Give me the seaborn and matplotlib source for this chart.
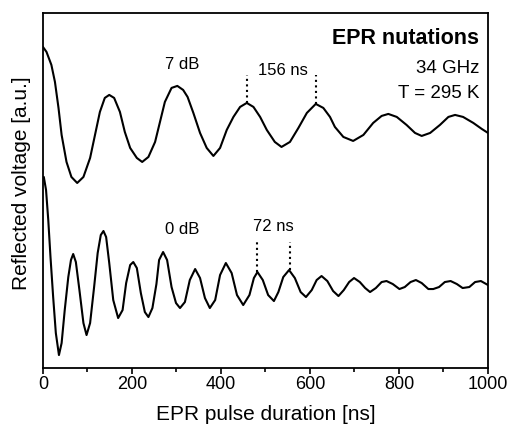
import matplotlib
matplotlib.use("Agg")
import matplotlib.pyplot as plt
import seaborn as sns
import pandas as pd
from matplotlib.ticker import MultipleLocator

# curva 7 dB (tempo em ns, sinal em u.a.)
t_7db = [0, 8, 19, 27, 35, 42, 53, 64, 77, 91, 106, 117, 128, 139, 149, 160, 173, 184,
         196, 211, 223, 237, 252, 263, 274, 289, 302, 315, 325, 338, 353, 368, 383, 398,
         413, 428, 443, 458, 473, 488, 503, 521, 536, 555, 574, 593, 613, 630, 645, 656,
         675, 697, 720, 742, 761, 776, 795, 817, 836, 851, 870, 892, 911, 926, 944, 967,
         986, 1000]
v_7db = [321, 316, 303, 286, 260, 233, 206, 191, 185, 191, 210, 233, 256, 270, 273, 270, 256, 236,
         220, 210, 206, 211, 226, 246, 266, 280, 282, 278, 271, 255, 235, 220, 212, 220,
         238, 251, 261, 265, 261, 251, 238, 226, 221, 226, 240, 255, 264, 260, 251, 241,
         231, 227, 233, 245, 252, 254, 251, 243, 235, 232, 235, 243, 251, 253, 251, 245,
         239, 235]

# curva 0 dB
t_0db = [2, 7, 12, 17, 23, 29, 36, 42, 49, 57, 63, 68, 74, 82, 91, 98, 106, 115, 123, 130,
         136, 142, 149, 158, 169, 179, 187, 196, 203, 211, 220, 229, 237, 246, 255, 261,
         270, 279, 289, 299, 308, 319, 330, 342, 353, 364, 375, 387, 398, 411, 424, 436,
         450, 464, 474, 482, 494, 506, 519, 529, 540, 553, 566, 579, 591, 604, 615, 626,
         639, 652, 664, 676, 688, 699, 712, 724, 735, 748, 761, 772, 786, 801, 813, 826,
         838, 851, 866, 877, 890, 903, 916, 930, 943, 958, 971, 984, 996, 1000]
v_0db = [191, 178, 148, 111, 71, 35, 13, 25, 58, 91, 108, 114, 106, 78, 45, 33, 45, 81, 115, 133,
         137, 131, 105, 68, 50, 58, 85, 103, 106, 100, 75, 56, 51, 60, 84, 108,
         116, 108, 81, 65, 60, 66, 88, 99, 90, 70, 60, 68, 93, 105, 95, 73,
         63, 73, 90, 96, 88, 73, 67, 76, 91, 98, 90, 76, 71, 78, 88, 92,
         87, 77, 72, 78, 86, 90, 86, 80, 76, 80, 86, 87, 84, 79, 81, 86,
         88, 85, 79, 79, 81, 86, 87, 84, 80, 81, 86, 87, 84, 83]

# picos usados para marcar o periodo
picos_7db = [458, 613]
topo_7db = [265, 264]
picos_0db = [482, 555]
topo_0db = [96, 98]

df7 = pd.DataFrame({"t": t_7db, "v": v_7db})
df0 = pd.DataFrame({"t": t_0db, "v": v_0db})

sns.set_style("ticks")
plt.rcParams["font.family"] = ["Liberation Sans", "DejaVu Sans"]
plt.rcParams["text.color"] = "black"
plt.rcParams["axes.labelcolor"] = "black"
plt.rcParams["xtick.color"] = "black"

fig = plt.figure(figsize=(5.11, 4.29), dpi=100)
ax = fig.add_axes([0.084, 0.142, 0.871, 0.828])

linha = dict(color="black", linewidth=1.5, solid_joinstyle="round", solid_capstyle="round")
sns.lineplot(data=df7, x="t", y="v", ax=ax, **linha)
sns.lineplot(data=df0, x="t", y="v", ax=ax, **linha)

for x, y in zip(picos_7db, topo_7db):
    ax.plot([x, x], [y, 293], color="black", linestyle=":", linewidth=1.5)
for x, y in zip(picos_0db, topo_0db):
    ax.plot([x, x], [y, 126], color="black", linestyle=":", linewidth=1.5)

ax.text(312, 303, "7 dB", ha="center", va="center", fontsize=12)
ax.text(539, 297, "156 ns", ha="center", va="center", fontsize=12)
ax.text(312, 138, "0 dB", ha="center", va="center", fontsize=12)
ax.text(517, 141, "72 ns", ha="center", va="center", fontsize=12)

ax.text(0.98, 0.927, "EPR nutations", transform=ax.transAxes, ha="right", va="center",
        fontsize=15.5, fontweight="bold")
ax.text(0.98, 0.844, "34 GHz", transform=ax.transAxes, ha="right", va="center", fontsize=13.5)
ax.text(0.98, 0.773, "T = 295 K", transform=ax.transAxes, ha="right", va="center", fontsize=13.5)

ax.set_xlim(0, 1000)
ax.set_ylim(0, 355)
ax.xaxis.set_major_locator(MultipleLocator(200))
ax.xaxis.set_minor_locator(MultipleLocator(100))
ax.set_yticks([])
ax.tick_params(axis="x", which="major", length=4, width=1.2, labelsize=13, pad=1.5, direction="out")
ax.tick_params(axis="x", which="minor", length=3, width=1.2, direction="out")
for s in ax.spines.values():
    s.set_visible(True)
    s.set_linewidth(1.3)
    s.set_color("black")

ax.set_xlabel("EPR pulse duration [ns]", fontsize=15, labelpad=9)
ax.set_ylabel("Reflected voltage [a.u.]", fontsize=15)
ax.yaxis.set_label_coords(-0.026, 0.52)

fig.savefig("out.png", dpi=100)
